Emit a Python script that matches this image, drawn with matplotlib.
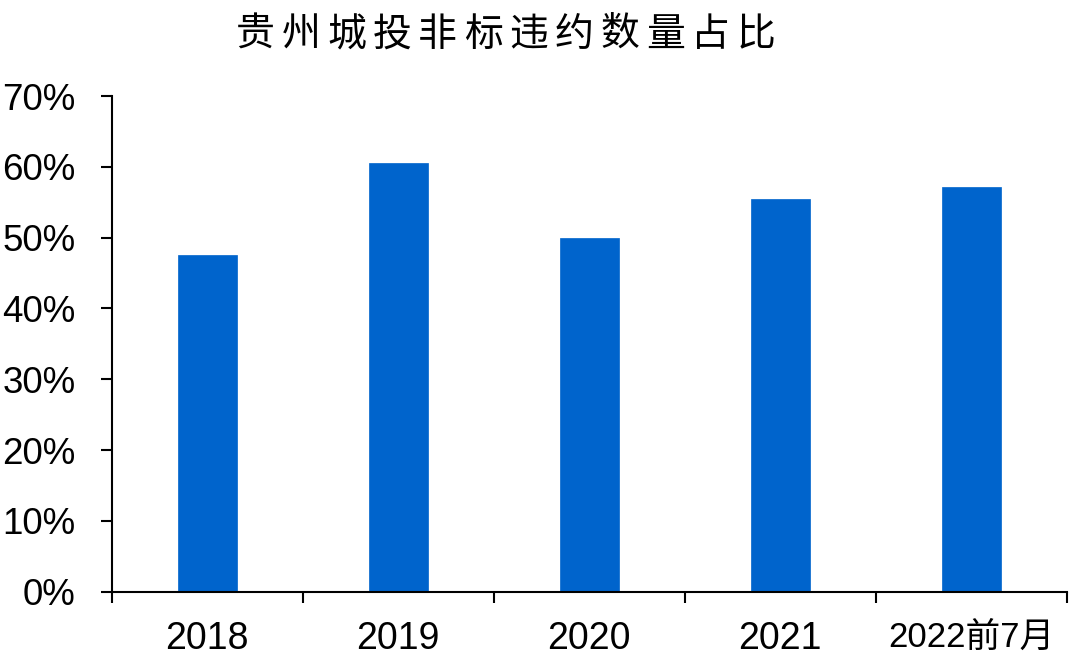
import matplotlib.pyplot as plt
import numpy as np

plt.rcParams['font.family'] = ['Liberation Sans', 'Noto Sans CJK SC', 'DejaVu Sans']

title = "贵州城投非标违约数量占比"
years = ["2018", "2019", "2020", "2021", "2022前7月"]
shares = [0.476, 0.606, 0.499, 0.555, 0.571]
ytick_vals = [0.0, 0.1, 0.2, 0.3, 0.4, 0.5, 0.6, 0.7]
ytick_labels = ["0%", "10%", "20%", "30%", "40%", "50%", "60%", "70%"]

fig = plt.figure(figsize=(10.8, 6.58), dpi=100, facecolor='w')
ax = fig.add_axes([0.1034, 0.1008, 0.8843, 0.7533])

x = np.arange(len(years))
ax.bar(x, shares, width=0.31, color='#0064CC', edgecolor='#0064CC', linewidth=0.5)

ax.set_xlim(-0.5, len(years) - 0.5)
ax.set_ylim(0, 0.70)

for side in ['top', 'right']:
    ax.spines[side].set_visible(False)
for side in ['left', 'bottom']:
    ax.spines[side].set_linewidth(1.5)
    ax.spines[side].set_color('black')

ax.set_yticks(ytick_vals)
ax.set_yticklabels(ytick_labels, fontsize=26.5)
ax.tick_params(axis='y', direction='out', length=8, width=1.5, pad=18)

ax.set_xticks(x)
ax.set_xticklabels(years, fontsize=27)
ax.set_xticks(np.arange(-0.5, len(years)), minor=True)
ax.tick_params(axis='x', which='major', length=0, pad=21)
ax.tick_params(axis='x', which='minor', direction='out', length=8, width=1.5)
ax.get_xticklabels()[-1].set_fontsize(25)

# title with wide character spacing
pitch = 45.5 / 1080
start = 0.4685 - pitch * (len(title) - 1) / 2
for i, ch in enumerate(title):
    fig.text(start + i * pitch, 1 - 35 / 658, ch, fontsize=28, ha='center', va='center',
             family=['Noto Sans CJK SC'])

plt.savefig('out.png', dpi=100)
